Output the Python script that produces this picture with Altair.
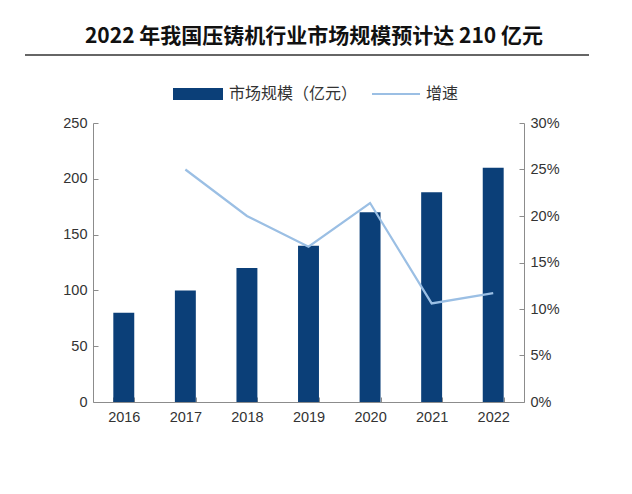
import altair as alt
import pandas as pd

years = ["2016", "2017", "2018", "2019", "2020", "2021", "2022"]
market = [80, 100, 120, 140, 170, 188, 210]
growth = [None, 0.25, 0.20, 0.167, 0.214, 0.106, 0.117]

df = pd.DataFrame({"year": years, "market": market, "growth": growth})

FONT = "Liberation Sans"
CJK = "Noto Sans CJK SC"
BAR = "#0b3f78"
LINE = "#9bbfe4"
AX = "#8c8c8c"
INWARD = {"expr": "-5"}
LS = 14.5

xenc = alt.X("year:N", title=None, sort=years,
             scale=alt.Scale(paddingInner=0.66, paddingOuter=0.33),
             axis=alt.Axis(labelAngle=0, labelFont=FONT, labelFontSize=LS, labelColor="#333333",
                           labelPadding=13, domainColor=AX, tickColor=AX, tickSize=INWARD,
                           tickBand="extent", grid=False))

bars = alt.Chart(df).mark_bar(color=BAR).encode(
    x=xenc,
    y=alt.Y("market:Q", title=None, scale=alt.Scale(domain=[0, 250]),
            axis=alt.Axis(values=[0, 50, 100, 150, 200, 250], labelFont=FONT, labelFontSize=LS,
                          labelColor="#333333", domainColor=AX, tickColor=AX, tickSize=INWARD,
                          labelPadding=11, grid=False)),
)

line = alt.Chart(df).transform_filter("datum.growth != null").mark_line(color=LINE, strokeWidth=2.2).encode(
    x=xenc,
    y=alt.Y("growth:Q", title=None, scale=alt.Scale(domain=[0, 0.30]),
            axis=alt.Axis(orient="right", format=".0%", values=[0, 0.05, 0.10, 0.15, 0.20, 0.25, 0.30],
                          labelFont=FONT, labelFontSize=LS, labelColor="#333333", domainColor=AX,
                          tickColor=AX, tickSize=INWARD, labelPadding=11, grid=False)),
)

main = alt.layer(bars, line).resolve_scale(y="independent")

title_df = pd.DataFrame({"t": ["2022 年我国压铸机行业市场规模预计达 210 亿元"]})
title = alt.Chart(title_df).mark_text(font=CJK, fontSize=21, fontWeight="bold", color="#111111",
                                      align="center", baseline="middle").encode(
    text="t:N", x=alt.value(221), y=alt.value(-86))
underline = alt.Chart(title_df).mark_rule(color="#333333", strokeWidth=1.5).encode(
    x=alt.value(-68), x2=alt.value(496), y=alt.value(-68))

leg_bar = alt.Chart(title_df).mark_rect(color=BAR).encode(
    x=alt.value(80), x2=alt.value(130), y=alt.value(-35), y2=alt.value(-23))
leg_bar_t = alt.Chart(title_df).mark_text(font=CJK, fontSize=16, color="#333333", align="left",
                                          baseline="middle").encode(
    text=alt.value("市场规模（亿元）"), x=alt.value(136), y=alt.value(-29))
leg_line = alt.Chart(title_df).mark_rule(color=LINE, strokeWidth=2).encode(
    x=alt.value(279), x2=alt.value(327), y=alt.value(-29))
leg_line_t = alt.Chart(title_df).mark_text(font=CJK, fontSize=16, color="#333333", align="left",
                                           baseline="middle").encode(
    text=alt.value("增速"), x=alt.value(333), y=alt.value(-29))

chart = alt.layer(main, title, underline, leg_bar, leg_bar_t, leg_line, leg_line_t).properties(
    width=431, height=279,
    autosize=alt.AutoSizeParams(type="none"),
    padding={"left": 85, "top": 115, "right": 100, "bottom": 84},
).configure(background="white", view=alt.ViewConfig(stroke=None))

chart.save("out.html", embed_options={"renderer": "svg", "actions": False})
